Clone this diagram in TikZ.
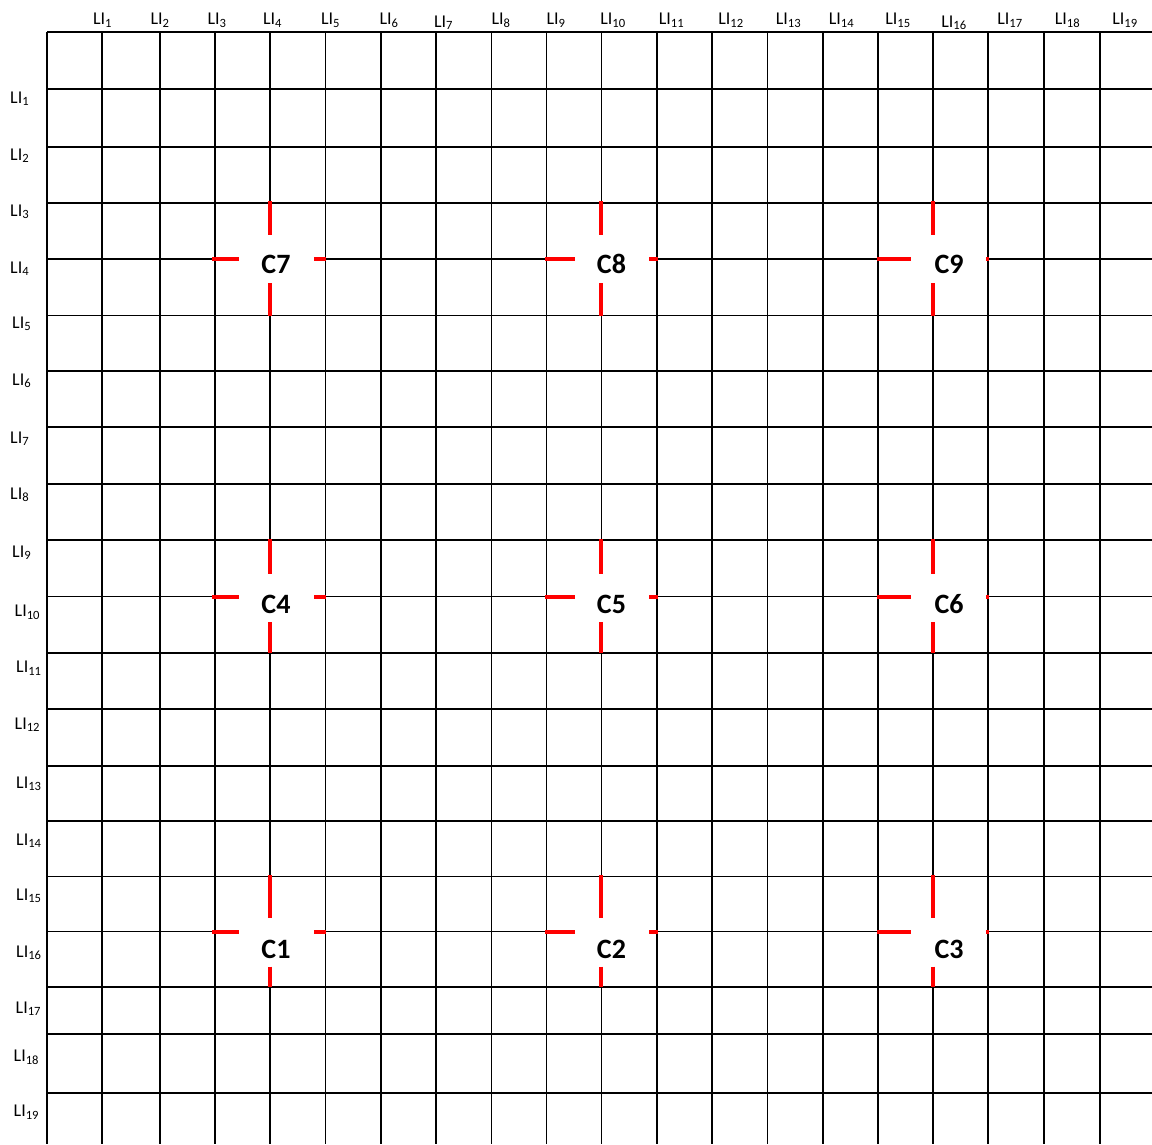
\documentclass[tikz,border=0pt]{standalone}
\usepackage{fontspec}
\setmainfont{Carlito}
\begin{document}
\begin{tikzpicture}[x=1pt,y=-1pt,
  gridline/.style={black, line width=1.1pt},
  redseg/.style={draw=red, line width=4pt},
  lilabel/.style={font=\fontsize{18}{18}\selectfont, inner sep=0pt, anchor=base},
  rowlabel/.style={font=\fontsize{18}{18}\selectfont, inner sep=0pt, anchor=base west},
  clabel/.style={font=\bfseries\fontsize{28}{28}\selectfont, inner sep=0pt}]
\useasboundingbox (0,0) rectangle (1152,1144);
\fill[white] (0,0) rectangle (1152,1144);
% grid
\foreach \x in {47,102,160,215,270,325.5,381,436,491.5,546.5,601.5,657,712,767.5,823,878,933,988,1044,1100}
  \draw[gridline] (\x,32) -- (\x,1144);
\foreach \y in {32,89,147,203,259,315.5,371,427,484,540,596.5,653,709,766,821,876.5,931.5,987,1034,1093}
  \draw[gridline] (47,\y) -- (1152,\y);
% column labels
\foreach \x/\b/\n in {102.5/24.5/1,160/24.5/2,217/24.5/3,272.5/24.5/4,330.5/24.5/5,389/24.5/6,443.5/27/7,501/24.5/8,556/24.5/9,613/24.5/10,671.5/24.5/11,731/24.5/12,788.5/24.5/13,841.5/24.5/14,898/24.5/15,954/27/16,1010/24.5/17,1067.5/24.5/18,1125/24.5/19}
  \node[lilabel] (col\n) at (\x,\b) {LI\textsubscript{\n}};
% row labels
\foreach \x/\b/\n in {10/103/1,10/160/2,10/216/3,10/273/4,12/328/5,12/385/6,10/443/7,10/499/8,12/557/9,14.5/616.5/10,16/672.5/11,14.5/729/12,16/788/13,16/845/14,16/900/15,16/957/16,15.5/1013/17,13.5/1061.5/18,13.5/1116.5/19}
  \node[rowlabel] (row\n) at (\x,\b) {LI\textsubscript{\n}};
% crosses
\foreach \cy/\ly/\ta/\tb/\ba/\bb/\base in {259/264/-58/-24/24/57/7, 596.5/604/-57.5/-22.5/25.5/56.5/4, 931.5/949/-56.5/-14/35/55.5/1}{
  \foreach \cx/\lx/\la/\lb/\ra/\rb/\k in {270/276/-58/-31/44/56/0, 601/611.5/-56/-26/48/57/1, 933/949/-56/-22/53/56/2}{
    \pgfmathtruncatemacro\n{\base+\k}
    \coordinate (x\n) at (\cx,\cy);
    \fill[white] ([shift={(\lb,\tb)}]x\n) rectangle ([shift={(\ra,\ba)}]x\n);
    \node[clabel] (C\n) at (\lx,\ly) {C\n};
    \draw[redseg] ([shift={(\la,0)}]x\n) -- ([shift={(\lb,0)}]x\n);
    \draw[redseg] ([shift={(\ra,0)}]x\n) -- ([shift={(\rb,0)}]x\n);
    \draw[redseg] ([shift={(0,\ta)}]x\n) -- ([shift={(0,\tb)}]x\n);
    \draw[redseg] ([shift={(0,\ba)}]x\n) -- ([shift={(0,\bb)}]x\n);
  }
}
\end{tikzpicture}
\end{document}
